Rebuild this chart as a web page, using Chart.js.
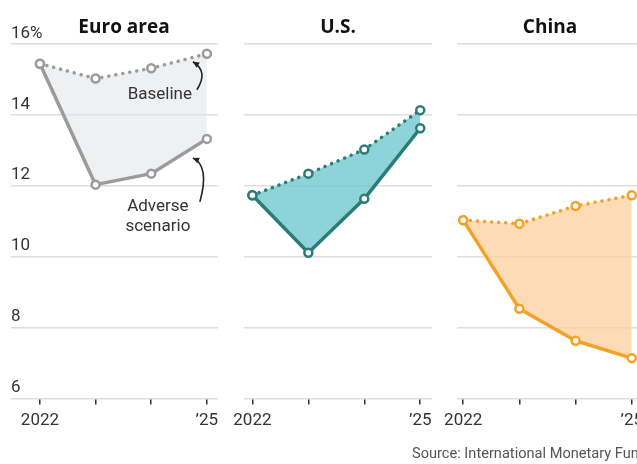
<!DOCTYPE html>
<html>
<head>
<meta charset="utf-8">
<script src="https://cdn.jsdelivr.net/npm/chart.js@4/dist/chart.umd.min.js"></script>
<style>
    html, body { margin: 0; padding: 0; background: #fff; }
    #wrap { position: relative; width: 637px; height: 464px; overflow: hidden; }
    canvas { position: absolute; top: 0; }
    #source {
        position: absolute; left: 412px; top: 444px; white-space: nowrap;
        font-family: Roboto, sans-serif; font-size: 14.6px; color: #555;
    }
</style>
</head>
<body>
<div id="wrap">
    <canvas id="euroChart" width="248" height="464" style="left:0px"></canvas>
    <canvas id="usChart" width="231" height="464" style="left:222px"></canvas>
    <canvas id="chinaChart" width="226" height="464" style="left:437px"></canvas>
    <div id="source">Source: International Monetary Fund</div>
</div>
<script>
const years = [2022, 2023, 2024, 2025];
const yTicks = [6, 8, 10, 12, 14, 16];

const euroBaseline = [15.44, 15.02, 15.31, 15.72];
const euroAdverse = [15.44, 12.03, 12.34, 13.32];
const usBaseline = [11.73, 12.34, 13.02, 14.13];
const usAdverse = [11.73, 10.11, 11.63, 13.62];
const chinaBaseline = [11.03, 10.93, 11.43, 11.73];
const chinaAdverse = [11.03, 8.53, 7.63, 7.14];

const TEXT = "#333";
const GRID = "#dedede";

function toPoints(values) {
    return years.map((yr, i) => ({ x: yr, y: values[i] }));
}

function drawArrow(ctx, tail, ctrl, tip) {
    ctx.beginPath();
    ctx.moveTo(tail[0], tail[1]);
    ctx.quadraticCurveTo(ctrl[0], ctrl[1], tip[0], tip[1]);
    ctx.stroke();
    const ang = Math.atan2(tip[1] - ctrl[1], tip[0] - ctrl[0]);
    const len = 7;
    ctx.beginPath();
    ctx.moveTo(tip[0], tip[1]);
    ctx.lineTo(tip[0] - len * Math.cos(ang - 0.45), tip[1] - len * Math.sin(ang - 0.45));
    ctx.lineTo(tip[0] - len * Math.cos(ang + 0.45), tip[1] - len * Math.sin(ang + 0.45));
    ctx.closePath();
    ctx.fill();
}

// labels + arrows on the euro panel
const euroNotes = {
    id: "euroNotes",
    afterDatasetsDraw(chart) {
        const ctx = chart.ctx;
        const xs = chart.scales.x, ys = chart.scales.y;
        const px = xs.getPixelForValue(years[3]);
        const pb = ys.getPixelForValue(euroBaseline[3]);
        const pa = ys.getPixelForValue(euroAdverse[3]);
        ctx.save();
        ctx.fillStyle = TEXT;
        ctx.strokeStyle = "#222";
        ctx.lineWidth = 1.6;
        ctx.font = "17px Roboto";
        ctx.textAlign = "center";
        ctx.textBaseline = "middle";
        ctx.fillText("Baseline", px - 47, pb + 41);
        ctx.fillText("Adverse", px - 49, pa + 68);
        ctx.fillText("scenario", px - 49, pa + 88);
        ctx.fillStyle = "#222";
        drawArrow(ctx, [px - 10, pb + 36], [px + 2, pb + 18], [px - 14, pb + 8]);
        drawArrow(ctx, [px - 7, pa + 63], [px + 3, pa + 27], [px - 14, pa + 19]);
        ctx.restore();
    }
};

function makePanel(id, title, baseline, adverse, lineColor, fillColor, xMin, xMax, pad, rightGap, showY, plugins) {
    const ctx = document.getElementById(id).getContext("2d");
    const common = {
        borderColor: lineColor,
        pointBackgroundColor: "#fff",
        pointBorderColor: lineColor,
        pointRadius: 4,
        pointBorderWidth: 2.5,
        borderCapStyle: "round",
        borderJoinStyle: "round",
        clip: false
    };
    const scales = {
        x: {
            type: "linear",
            min: xMin,
            max: xMax,
            afterBuildTicks: s => { s.ticks = years.map(v => ({ value: v })); },
            border: { display: false },
            grid: { drawOnChartArea: false, tickLength: 6, color: "#333", lineWidth: 1.5 },
            ticks: {
                autoSkip: false,
                maxRotation: 0,
                padding: 6,
                color: TEXT,
                font: { family: "Roboto", size: 17 },
                callback: v => v === 2022 ? "2022" : (v === 2025 ? "\u201925" : "")
            }
        },
        y: {
            min: 6,
            max: 16,
            afterBuildTicks: s => { s.ticks = yTicks.map(v => ({ value: v })); },
            border: { display: false },
            grid: { color: GRID, lineWidth: 1.5, drawTicks: false },
            ticks: {
                display: showY,
                mirror: true,
                padding: 0,
                labelOffset: -10.5,
                color: TEXT,
                font: { family: "Roboto", size: 17 },
                callback: v => v === 16 ? "16%" : String(v)
            }
        }
    };
    if (rightGap > 0) {
        // empty right axis: keeps the title centred wider than the plot
        scales.gap = {
            type: "linear",
            position: "right",
            grid: { display: false },
            border: { display: false },
            ticks: { display: false },
            afterFit: s => { s.width = rightGap; }
        };
    }
    return new Chart(ctx, {
        type: "line",
        data: {
            datasets: [
                Object.assign({}, common, {
                    label: "Baseline",
                    data: toPoints(baseline),
                    borderWidth: 3.5,
                    borderDash: [0.1, 7],
                    fill: false
                }),
                Object.assign({}, common, {
                    label: "Adverse scenario",
                    data: toPoints(adverse),
                    borderWidth: 3.5,
                    fill: "-1",
                    backgroundColor: fillColor
                })
            ]
        },
        options: {
            responsive: false,
            animation: false,
            layout: { padding: { left: pad[0], right: pad[1], top: 0, bottom: 27 } },
            plugins: {
                legend: { display: false },
                tooltip: { enabled: false },
                title: {
                    display: true,
                    text: title,
                    color: "#111",
                    font: { family: "'Open Sans'", weight: "bold", size: 19 },
                    padding: { top: 16, bottom: 5 }
                }
            },
            scales: scales
        },
        plugins: plugins
    });
}

document.addEventListener("DOMContentLoaded", () => {
    makePanel("euroChart", "Euro area", euroBaseline, euroAdverse, "#9b9b9b", "rgba(225,228,232,0.55)",
        2021.48, 2025.2, [11, 11], 19, true, [euroNotes]);
    makePanel("usChart", "U.S.", usBaseline, usAdverse, "#2b7c77", "rgba(110,199,204,0.78)",
        2021.85, 2025.21, [22, 21], 0, false, []);
    makePanel("chinaChart", "China", chinaBaseline, chinaAdverse, "#f5a127", "rgba(252,210,160,0.78)",
        2021.89, 2025.2, [20, 20], 0, false, []);
});
</script>
</body>
</html>
